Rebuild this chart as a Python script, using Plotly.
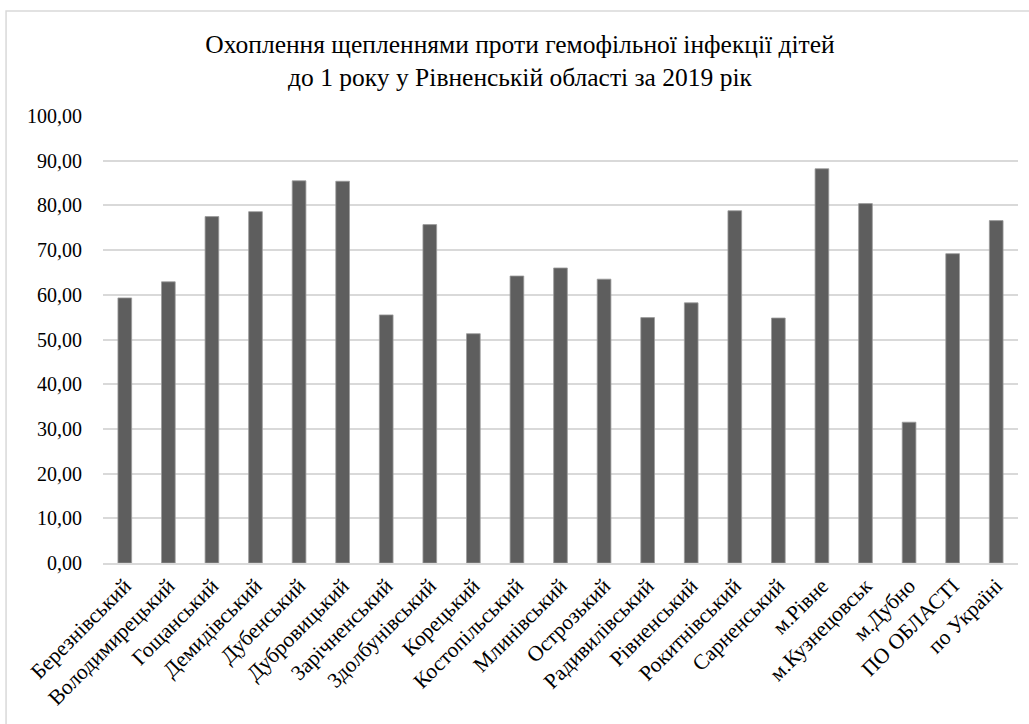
import plotly.graph_objects as go

districts = [
    "Березнівський", "Володимирецький", "Гощанський", "Демидівський",
    "Дубенський", "Дубровицький", "Зарічненський", "Здолбунівський",
    "Корецький", "Костопільський", "Млинівський", "Острозький",
    "Радивилівський", "Рівненський", "Рокитнівський", "Сарненський",
    "м.Рівне", "м.Кузнецовськ", "м.Дубно", "ПО ОБЛАСТІ", "по Україні",
]
coverage = [
    59.3, 62.9, 77.5, 78.6, 85.5, 85.4, 55.5, 75.7, 51.3, 64.2, 66.0,
    63.5, 54.9, 58.2, 78.8, 54.8, 88.2, 80.4, 31.5, 69.2, 76.6,
]
y_ticks = list(range(0, 101, 10))
y_tick_text = [f"{v},00" for v in y_ticks]

W, H = 1029, 724
L, R, T, B = 103, 10.5, 116, 160.7
SERIF = "Liberation Serif"

fig = go.Figure(
    go.Bar(
        x=districts,
        y=coverage,
        marker=dict(color="#5e5e5e", line=dict(color="#9a9a9a", width=0.8)),
        hoverinfo="x+y",
    )
)

pw = W - L - R
ph = H - T - B

fig.update_layout(
    width=W,
    height=H,
    margin=dict(l=L, r=R, t=T, b=B, pad=0),
    paper_bgcolor="white",
    plot_bgcolor="white",
    bargap=0.686,
    showlegend=False,
    font=dict(family=SERIF, color="#000000", size=20),
    title=dict(
        text="Охоплення щепленнями проти гемофільної інфекції дітей<br>до 1 року у Рівненській області за 2019 рік",
        font=dict(family=SERIF, size=25.5, color="#000000"),
        x=520 / W,
        xref="container",
        xanchor="center",
        y=1 - 53 / H,
        yref="container",
        yanchor="top",
    ),
    xaxis=dict(
        tickangle=-45,
        showgrid=False,
        showline=True,
        linecolor="#d9d9d9",
        linewidth=1.5,
        ticks="",
        tickfont=dict(family=SERIF, size=21.5),
        fixedrange=True,
    ),
    yaxis=dict(
        range=[0, 100],
        tickvals=y_ticks,
        ticktext=y_tick_text,
        showgrid=True,
        gridcolor="#d9d9d9",
        gridwidth=1.5,
        zeroline=False,
        showline=False,
        ticks="",
        ticklabelstandoff=20,
        tickfont=dict(family=SERIF, size=20),
        fixedrange=True,
    ),
    shapes=[
        dict(
            type="rect",
            xref="paper",
            yref="paper",
            x0=(6 - L) / pw,
            x1=(W + 10 - L) / pw,
            y0=(H - B - (H + 10)) / ph,
            y1=(H - B - 11) / ph,
            line=dict(color="#d9d9d9", width=1.5),
            fillcolor="rgba(0,0,0,0)",
            layer="below",
        )
    ],
)

fig.write_html("out.html")
